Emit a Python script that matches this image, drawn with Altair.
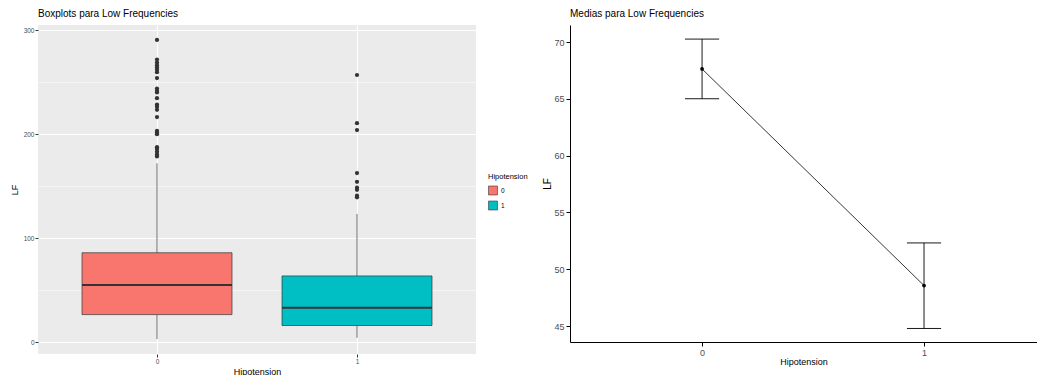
import altair as alt
import pandas as pd

# ---- data ----
groups = ["0", "1"]
q1 = [26.5, 16.0]
median = [55.0, 33.0]
q3 = [86.0, 63.7]
whisk_lo = [3.0, 4.2]
whisk_hi = [172.0, 123.3]
outliers_0 = [290.7, 271.8, 269.0, 266.4, 264.2, 262.0, 259.7, 254.0, 244.0, 241.8,
              240.2, 234.7, 228.6, 226.4, 223.5, 216.5, 203.3, 201.7, 200.0, 187.6,
              185.7, 183.2, 180.6, 178.7]
outliers_1 = [257.0, 210.7, 204.0, 162.7, 154.3, 148.6, 146.6, 140.9, 139.3]
means = [67.63, 48.57]
ci_low = [65.01, 44.79]
ci_high = [70.26, 52.32]

FONT = "Liberation Sans"
GREY = "#4D4D4D"

box_df = pd.DataFrame({
    "g": list(range(len(groups))), "label": groups,
    "q1": q1, "med": median, "q3": q3, "lo": whisk_lo, "hi": whisk_hi,
})
out_df = pd.DataFrame({
    "g": [0] * len(outliers_0) + [1] * len(outliers_1),
    "v": outliers_0 + outliers_1,
})
mean_df = pd.DataFrame({"g": list(range(len(groups))), "label": groups,
                        "m": means, "lo": ci_low, "hi": ci_high})

# ---------------- left: boxplots ----------------
xs_l = alt.Scale(domain=[-0.595, 1.595], nice=False, zero=False)
ys_l = alt.Scale(domain=[-11.4, 305.1], nice=False, zero=False)
xax_l = alt.Axis(title="Hipotension", values=[0, 1], labelExpr="datum.value",
                 grid=True, gridColor="white", gridWidth=1.1, domain=False,
                 tickSize=3, tickColor="#333333", labelPadding=1, labelFontSize=6.5,
                 labelColor=GREY, titleFontSize=9, titleFontWeight="normal",
                 titleColor="black", titlePadding=3, labelFont=FONT, titleFont=FONT)
yax_l = alt.Axis(title="LF", values=list(range(0, 301, 50)),
                 labelExpr="datum.value % 100 === 0 ? datum.label : ''",
                 grid=True, gridColor="white",
                 gridWidth={"condition": {"test": "datum.value % 100 === 0", "value": 1.1}, "value": 0.5},
                 tickOpacity={"condition": {"test": "datum.value % 100 === 0", "value": 1}, "value": 0},
                 domain=False, tickSize=3, tickColor="#333333", labelPadding=1,
                 labelFontSize=6.5, labelColor=GREY, titleFontSize=9,
                 titleFontWeight="normal", titleColor="black", titlePadding=4,
                 labelFont=FONT, titleFont=FONT)

def XL(f):
    return alt.X(f, type="quantitative", scale=xs_l, axis=xax_l)

def YL(f):
    return alt.Y(f, type="quantitative", scale=ys_l, axis=yax_l)

base_box = alt.Chart(box_df).transform_calculate(
    xl="datum.g - 0.375", xr="datum.g + 0.375")

wh_top = base_box.mark_rule(color="#333333", strokeWidth=0.7).encode(
    x=XL("g"), y=YL("q3"), y2="hi")
wh_bot = base_box.mark_rule(color="#333333", strokeWidth=0.7).encode(
    x=XL("g"), y=YL("lo"), y2="q1")
boxes = base_box.mark_bar(stroke="#333333", strokeWidth=0.7, opacity=1).encode(
    x=XL("xl"), x2="xr", y=YL("q1"), y2="q3",
    color=alt.Color("label:N",
                    scale=alt.Scale(domain=groups, range=["#F8766D", "#00BFC4"]),
                    legend=alt.Legend(title="Hipotension", orient="none",
                                      legendX=450, legendY=148,
                                      titleFontSize=7.5, titleFontWeight="normal",
                                      titleColor="black", titleFont=FONT,
                                      titleAnchor="start", titleBaseline="top",
                                      labelFontSize=6.5, labelFont=FONT, labelColor="black",
                                      symbolType="square", symbolSize=80,
                                      symbolStrokeColor="#333333", symbolStrokeWidth=0.6,
                                      symbolOpacity=1, rowPadding=3, labelOffset=3,
                                      titlePadding=5)))
med = base_box.mark_rule(color="#333333", strokeWidth=2).encode(
    x=XL("xl"), x2="xr", y=YL("med"))
outs = alt.Chart(out_df).mark_circle(color="#333333", size=18, opacity=1).encode(
    x=XL("g"), y=YL("v"))

left = alt.layer(wh_top, wh_bot, boxes, med, outs).properties(
    width=438, height=329,
    title=alt.TitleParams("Boxplots para Low Frequencies", anchor="start", frame="group",
                          fontSize=10, fontWeight="normal", font=FONT, color="black",
                          offset=6),
    view=alt.ViewBackground(fill="#EBEBEB", stroke=None),
)

# ---------------- right: means ----------------
xs_r = alt.Scale(domain=[-0.595, 1.509], nice=False, zero=False)
ys_r = alt.Scale(domain=[43.6, 71.5], nice=False, zero=False)
xax_r = alt.Axis(title="Hipotension", values=[0, 1], labelExpr="datum.value",
                 grid=False, domain=True, domainColor="black", domainWidth=1,
                 tickSize=4, tickColor="black", labelPadding=2, labelFontSize=9,
                 labelColor=GREY, titleFontSize=9, titleFontWeight="normal",
                 titleColor="black", titlePadding=0, labelFont=FONT, titleFont=FONT)
yax_r = alt.Axis(title="LF", values=[45, 50, 55, 60, 65, 70],
                 grid=False, domain=True, domainColor="black", domainWidth=1,
                 tickSize=4, tickColor="black", labelPadding=2, labelFontSize=9,
                 labelColor=GREY, titleFontSize=10, titleFontWeight="normal",
                 titleColor="black", titlePadding=1, labelFont=FONT, titleFont=FONT)

def XR(f):
    return alt.X(f, type="quantitative", scale=xs_r, axis=xax_r)

def YR(f):
    return alt.Y(f, type="quantitative", scale=ys_r, axis=yax_r)

base_m = alt.Chart(mean_df).transform_calculate(
    cl="datum.g - 0.077", cr="datum.g + 0.077")

line = base_m.mark_line(color="black", strokeWidth=0.8).encode(x=XR("g"), y=YR("m"))
err = base_m.mark_rule(color="black", strokeWidth=0.9).encode(x=XR("g"), y=YR("lo"), y2="hi")
cap_lo = base_m.mark_rule(color="black", strokeWidth=0.9).encode(x=XR("cl"), x2="cr", y=YR("lo"))
cap_hi = base_m.mark_rule(color="black", strokeWidth=0.9).encode(x=XR("cl"), x2="cr", y=YR("hi"))
pts = base_m.mark_circle(color="black", size=14, opacity=1).encode(x=XR("g"), y=YR("m"))

right = alt.layer(line, err, cap_lo, cap_hi, pts).properties(
    width=467, height=317,
    title=alt.TitleParams("Medias para Low Frequencies", anchor="start", frame="group",
                          fontSize=10, fontWeight="normal", font=FONT, color="black",
                          offset=6),
    view=alt.ViewBackground(fill="white", stroke=None),
)

chart = alt.hconcat(left, right, spacing=66).properties(
    padding={"left": 2, "top": 1, "right": 0, "bottom": 0}
).configure(background="white")

chart.save("out.html", embed_options={"renderer": "svg", "actions": False})
